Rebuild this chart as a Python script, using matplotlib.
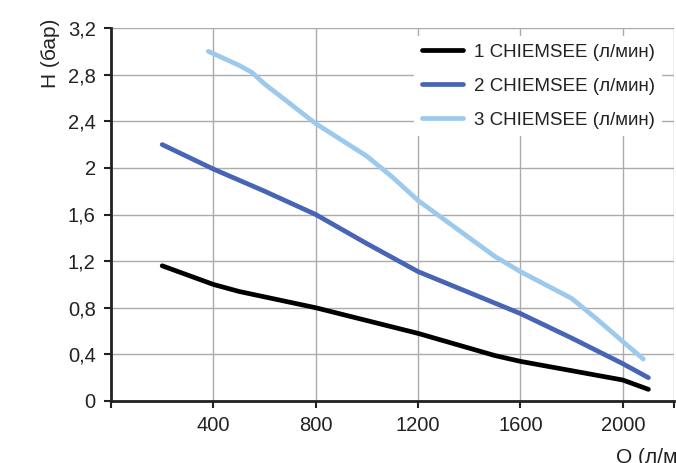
import matplotlib
matplotlib.use("Agg")
import matplotlib.pyplot as plt

plt.rcParams['font.family'] = ['Liberation Sans', 'DejaVu Sans']

# данные с графика: расход Q (л/мин) и напор H (бар)
q1 = [200, 400, 500, 800, 1200, 1500, 1600, 1800, 2000, 2100]
h1 = [1.16, 1.0, 0.94, 0.8, 0.58, 0.39, 0.34, 0.26, 0.18, 0.1]

q2 = [200, 400, 600, 800, 1000, 1200, 1400, 1600, 1800, 2000, 2100]
h2 = [2.2, 1.99, 1.80, 1.60, 1.35, 1.11, 0.93, 0.75, 0.54, 0.32, 0.2]

q3 = [380, 500, 550, 600, 800, 1000, 1100, 1200, 1400, 1500, 1600, 1800, 1900, 2000, 2080]
h3 = [3.0, 2.88, 2.82, 2.72, 2.38, 2.10, 1.92, 1.72, 1.40, 1.24, 1.11, 0.88, 0.70, 0.51, 0.36]

labels = ['1 CHIEMSEE (л/мин)', '2 CHIEMSEE (л/мин)', '3 CHIEMSEE (л/мин)']
colors = ['#000000', '#4765B4', '#9DC9EC']

x_ticks = [0, 400, 800, 1200, 1600, 2000, 2200]
x_labels = ['', '400', '800', '1200', '1600', '2000', '']
y_ticks = [0, 0.4, 0.8, 1.2, 1.6, 2.0, 2.4, 2.8, 3.2]
y_labels = ['0', '0,4', '0,8', '1,2', '1,6', '2', '2,4', '2,8', '3,2']

fig = plt.figure(figsize=(6.76, 4.63), dpi=100)
ax = fig.add_axes([111 / 676, 62 / 463, 563 / 676, 373 / 463])

for q, h, lab, col in zip([q1, q2, q3], [h1, h2, h3], labels, colors):
    ax.plot(q, h, color=col, lw=3.4, label=lab, solid_capstyle='round',
            solid_joinstyle='round', clip_on=False, zorder=3)

ax.set_xlim(0, 2200)
ax.set_ylim(0, 3.2)
ax.set_xticks(x_ticks)
ax.set_xticklabels(x_labels)
ax.set_yticks(y_ticks)
ax.set_yticklabels(y_labels)
ax.tick_params(axis='both', labelsize=14.5, colors='#222222', length=5, width=1.5,
               direction='out', pad=6)
ax.grid(True, color='#ababab', lw=1.0)
ax.set_axisbelow(True)

for s in ['top', 'right']:
    ax.spines[s].set_visible(False)
for s in ['left', 'bottom']:
    ax.spines[s].set_linewidth(2)
    ax.spines[s].set_color('#222222')

leg = ax.legend(loc='upper right', bbox_to_anchor=(662 / 676, 1 - 36 / 463),
                bbox_transform=fig.transFigure, frameon=True, fancybox=False,
                edgecolor='none', facecolor='white', framealpha=1,
                fontsize=13.5, handlelength=2.2, handletextpad=0.55,
                labelspacing=0.9, borderaxespad=0, borderpad=0.4)
for t in leg.get_texts():
    t.set_color('#222222')

fig.text(50 / 676, 1 - 53 / 463, 'H (бар)', rotation=90, ha='center', va='center',
         fontsize=15, color='#222222')
fig.text(616 / 676, 1 - 448 / 463, 'Q (л/мин)', ha='left', va='top',
         fontsize=15, color='#222222')

fig.savefig('out.png', dpi=100)
